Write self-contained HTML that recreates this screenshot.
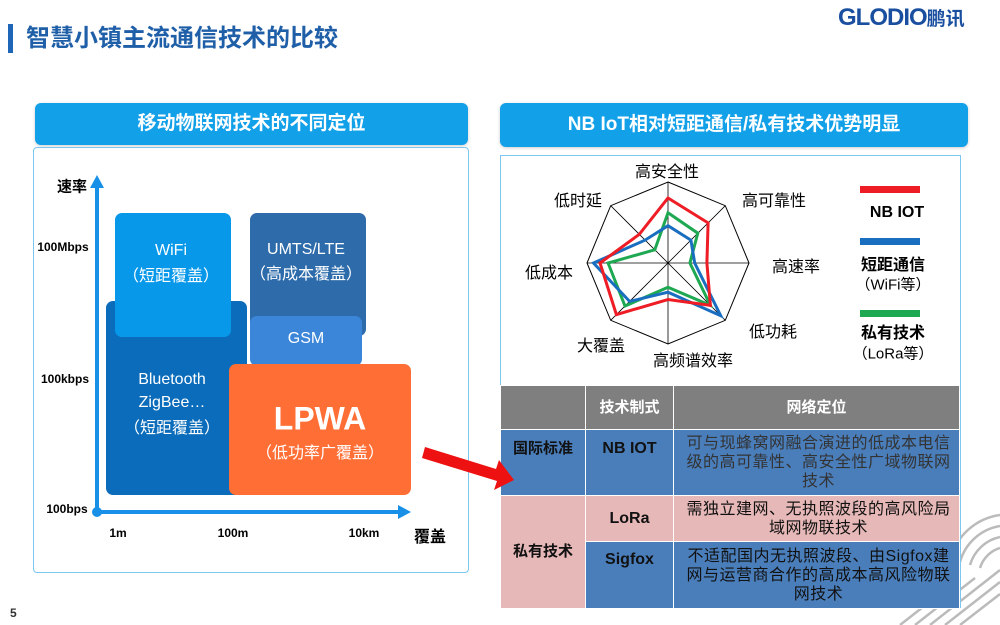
<!DOCTYPE html>
<html><head><meta charset="utf-8">
<style>
*{margin:0;padding:0;box-sizing:border-box}
body{width:1000px;height:625px;background:#fff;position:relative;overflow:hidden;font-family:"Liberation Sans","Noto Sans CJK SC",sans-serif}
.a{position:absolute}
.hdr{position:absolute;background:#12A0E8;color:#fff;font-weight:bold;font-size:19px;text-align:center;border-radius:6px;box-shadow:0 1px 3px rgba(0,0,0,.2)}
.box{position:absolute;color:#fff;text-align:center;border-radius:7px}
.c{position:absolute;white-space:nowrap;transform:translate(-50%,-50%)}
table{border-collapse:collapse;position:absolute;left:500px;top:385px;width:460px;table-layout:fixed}
td{border:1px solid #fff;text-align:center;color:#111;font-size:15px;line-height:20px}
td.t{font-size:16px;line-height:19px;padding:1px 4px 1px 8px;letter-spacing:0.5px}
</style></head><body>
<svg class="a" style="left:0;top:0" width="1000" height="625">
<g stroke="#bbb" stroke-width="2.5" fill="none">
<path d="M1000 515 A60 60 0 0 0 950 560"/>
<path d="M1000 526 A50 50 0 0 0 960 562"/>
<path d="M1000 537 A40 40 0 0 0 970 565"/>
<path d="M1000 548 A30 30 0 0 0 980 568"/>
<path d="M930 625 L1000 570 M945 625 L1000 582 M960 625 L1000 594 M915 625 L975 578 M900 625 L955 582"/>
</g>
</svg>
<div class="a" style="left:8px;top:24px;width:5px;height:29px;background:#1F66B8"></div>
<div class="a" style="left:26px;top:24px;font-size:24px;font-weight:bold;color:#1F5FA8;line-height:30px">智慧小镇主流通信技术的比较</div>
<div class="a" style="left:838px;top:4px;font-size:24px;font-weight:bold;color:#1A4FA0;line-height:28px;letter-spacing:-1px">GLODIO<span style="font-size:19px;letter-spacing:0">鹏讯</span></div>
<div class="a" style="left:10px;top:606px;font-size:12px;font-weight:bold;color:#333">5</div>

<div class="hdr" style="left:35px;top:103px;width:433px;height:42px;line-height:42px">移动物联网技术的不同定位</div>
<div class="hdr" style="left:500px;top:103px;width:468px;height:44px;line-height:44px">NB IoT相对短距通信/私有技术优势明显</div>
<div class="a" style="left:33px;top:147px;width:436px;height:426px;border:1px solid #7CC6F0;border-radius:4px"></div>
<div class="a" style="left:500px;top:155px;width:461px;height:230px;border:1px solid #7CC6F0;border-bottom:none"></div>
<div class="a" style="left:960px;top:155px;width:1px;height:453px;background:#7CC6F0"></div>

<!-- left chart -->
<div class="box" style="left:106px;top:301px;width:141px;height:194px;background:#0A6CBA"></div>
<div class="box" style="left:115px;top:213px;width:116px;height:124px;background:#0898EA"></div>
<div class="box" style="left:250px;top:213px;width:116px;height:123px;background:#2D6BAA"></div>
<div class="box" style="left:250px;top:316px;width:112px;height:50px;background:#3B86D8"></div>
<div class="box" style="left:229px;top:364px;width:182px;height:131px;background:#FF6E35"></div>
<div class="c" style="left:171px;top:251px;color:#fff;font-size:16px">WiFi</div>
<div class="c" style="left:171px;top:274px;color:#fff;font-size:16px">（短距覆盖）</div>
<div class="c" style="left:306px;top:250px;color:#fff;font-size:16px">UMTS/LTE</div>
<div class="c" style="left:306px;top:272px;color:#fff;font-size:16px">（高成本覆盖）</div>
<div class="c" style="left:306px;top:339px;color:#fff;font-size:16px">GSM</div>
<div class="c" style="left:172px;top:380px;color:#fff;font-size:16px">Bluetooth</div>
<div class="c" style="left:172px;top:403px;color:#fff;font-size:16px">ZigBee…</div>
<div class="c" style="left:172px;top:426px;color:#fff;font-size:16px">（短距覆盖）</div>
<div class="c" style="left:320px;top:419px;color:#fff;font-size:32px;font-weight:bold">LPWA</div>
<div class="c" style="left:320px;top:451px;color:#fff;font-size:16px">（低功率广覆盖）</div>
<svg class="a" style="left:0;top:0" width="1000" height="625">
<line x1="97" y1="512" x2="97" y2="186" stroke="#1890E8" stroke-width="4"/>
<polygon points="97,175 90,188 104,188" fill="#1890E8"/>
<line x1="97" y1="512" x2="400" y2="512" stroke="#1890E8" stroke-width="4"/>
<polygon points="411,512 398,505 398,519" fill="#1890E8"/>
<circle cx="97" cy="512" r="5" fill="#1890E8"/>
</svg>
<div class="c" style="left:72px;top:186px;font-size:15px;font-weight:bold">速率</div>
<div class="c" style="left:63px;top:247px;font-size:12px;font-weight:bold">100Mbps</div>
<div class="c" style="left:65px;top:379px;font-size:12px;font-weight:bold">100kbps</div>
<div class="c" style="left:67px;top:509px;font-size:12px;font-weight:bold">100bps</div>
<div class="c" style="left:118px;top:533px;font-size:12px;font-weight:bold">1m</div>
<div class="c" style="left:233px;top:533px;font-size:12px;font-weight:bold">100m</div>
<div class="c" style="left:364px;top:533px;font-size:12px;font-weight:bold">10km</div>
<div class="c" style="left:430px;top:535px;font-size:16px;font-weight:bold">覆盖</div>

<!-- radar -->
<svg class="a" style="left:0;top:0" width="1000" height="625">
<polygon points="668,182 725.3,205.7 749,263 725.3,320.3 668,344 610.7,320.3 587,263 610.7,205.7" fill="none" stroke="#000" stroke-width="1"/>
<g stroke="#000" stroke-width="0.8"><line x1="668" y1="182" x2="668" y2="344"/><line x1="587" y1="263" x2="749" y2="263"/><line x1="610.7" y1="205.7" x2="725.3" y2="320.3"/><line x1="725.3" y1="205.7" x2="610.7" y2="320.3"/></g>
<polygon points="668,212.8 697.8,233.2 689.9,263 710.4,305.4 668,287.3 625,306 608.1,263 654.8,249.8" fill="none" stroke="#1DA851" stroke-width="3"/>
<polygon points="668,225.7 690.9,240.1 694.7,263 720.7,315.7 668,292.2 629.6,301.4 593.5,263 645.1,240.1" fill="none" stroke="#1A6EC0" stroke-width="3"/>
<polygon points="668,198 708.1,222.9 706.9,263 710.4,305.4 668,299.5 616.4,314.6 600,263 639.3,234.3" fill="none" stroke="#EE1C24" stroke-width="3"/>
<rect x="860" y="186" width="60" height="7" fill="#EE1C24"/>
<rect x="860" y="238" width="60" height="7" fill="#1A6EC0"/>
<rect x="860" y="310" width="60" height="7" fill="#1DA851"/>
</svg>
<div class="c" style="left:667px;top:170px;font-size:16px">高安全性</div>
<div class="c" style="left:774px;top:199px;font-size:16px">高可靠性</div>
<div class="c" style="left:796px;top:265px;font-size:16px">高速率</div>
<div class="c" style="left:773px;top:330px;font-size:16px">低功耗</div>
<div class="c" style="left:693px;top:359px;font-size:16px">高频谱效率</div>
<div class="c" style="left:601px;top:344px;font-size:16px">大覆盖</div>
<div class="c" style="left:549px;top:271px;font-size:16px">低成本</div>
<div class="c" style="left:578px;top:199px;font-size:16px">低时延</div>
<div class="c" style="left:897px;top:213px;font-size:16px;font-weight:bold">NB IOT</div>
<div class="c" style="left:893px;top:263px;font-size:16px;font-weight:bold">短距通信</div>
<div class="c" style="left:893px;top:284px;font-size:15px">（WiFi等）</div>
<div class="c" style="left:893px;top:331px;font-size:16px;font-weight:bold">私有技术</div>
<div class="c" style="left:893px;top:353px;font-size:15px">（LoRa等）</div>

<table>
<colgroup><col style="width:85px"><col style="width:88px"><col></colgroup>
<tr style="height:44px;background:#7F7F7F"><td></td><td style="color:#fff;font-weight:bold">技术制式</td><td style="color:#fff;font-weight:bold">网络定位</td></tr>
<tr style="height:66px;background:#4A7EBB"><td style="font-weight:bold;vertical-align:top;padding-top:9px">国际标准</td><td style="font-weight:bold;font-size:16px;vertical-align:top;padding-top:9px">NB IOT</td><td class="t" style="color:#333">可与现蜂窝网融合演进的低成本电信级的高可靠性、高安全性广域物联网技术</td></tr>
<tr style="height:46px;background:#E6B8B7"><td rowspan="2" style="font-weight:bold;background:#E6B8B7">私有技术</td><td style="font-weight:bold;font-size:16px">LoRa</td><td class="t">需独立建网、无执照波段的高风险局域网物联技术</td></tr>
<tr style="height:67px;background:#4A7EBB"><td style="font-weight:bold;font-size:16px;vertical-align:top;padding-top:8px">Sigfox</td><td class="t">不适配国内无执照波段、由Sigfox建网与运营商合作的高成本高风险物联网技术</td></tr>
</table>
<svg class="a" style="left:0;top:0" width="1000" height="625">
<polygon points="425,447 496,469 499,460 514,480 494,490 497,481 422,458" fill="#EE1111"/>
</svg>
</body></html>
